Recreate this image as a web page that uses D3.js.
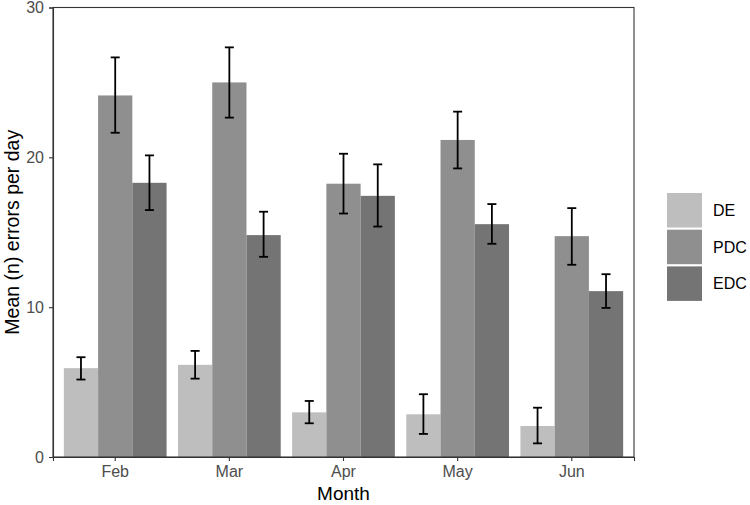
<!DOCTYPE html>
<html>
<head>
<meta charset="utf-8">
<script src="https://cdn.jsdelivr.net/npm/d3@7"></script>
<style>
  body { margin: 0; background: #fff; }
  svg { font-family: "Liberation Sans", Arial, sans-serif; }
</style>
</head>
<body>
<svg width="750" height="505"></svg>
<script>
// values
var months = ["Feb", "Mar", "Apr", "May", "Jun"];
var groups = ["DE", "PDC", "EDC"];
var deMean  = [5.93, 6.15, 2.98, 2.85, 2.07];
var deLow   = [5.17, 5.23, 2.25, 1.54, 0.91];
var deHigh  = [6.66, 7.08, 3.74, 4.19, 3.29];
var pdcMean = [24.13, 25.0, 18.24, 21.16, 14.74];
var pdcLow  = [21.64, 22.65, 16.25, 19.26, 12.83];
var pdcHigh = [26.67, 27.34, 20.24, 23.05, 16.61];
var edcMean = [18.3, 14.81, 17.43, 15.54, 11.07];
var edcLow  = [16.48, 13.36, 15.38, 14.23, 9.95];
var edcHigh = [20.13, 16.37, 19.53, 16.88, 12.2];
var yTicks = [0, 10, 20, 30];

var series = {
  DE: {mean: deMean, low: deLow, high: deHigh},
  PDC: {mean: pdcMean, low: pdcLow, high: pdcHigh},
  EDC: {mean: edcMean, low: edcLow, high: edcHigh}
};

var rows = [];
months.forEach(function(m, i) {
  groups.forEach(function(g) {
    rows.push({month: m, group: g, mean: series[g].mean[i], low: series[g].low[i], high: series[g].high[i]});
  });
});

var svg = d3.select("svg"),
    margin = {top: 7.5, left: 53, right: 116, bottom: 48},
    width = 750 - margin.left - margin.right,
    height = 505 - margin.top - margin.bottom;

var x = d3.scaleBand().domain(months).range([0, width]).paddingInner(0.1).paddingOuter(0.095),
    x1 = d3.scaleBand().domain(groups).range([0, x.bandwidth()]),
    y = d3.scaleLinear().domain([0, 30]).range([height, 0]),
    color = d3.scaleOrdinal().domain(groups).range(["#bebebe", "#8f8f8f", "#747474"]);

var g = svg.append("g")
    .attr("transform", "translate(" + margin.left + "," + margin.top + ")");

g.selectAll(".bar")
  .data(rows)
  .enter().append("rect")
    .attr("class", "bar")
    .attr("x", function(d) { return x(d.month) + x1(d.group); })
    .attr("y", function(d) { return y(d.mean); })
    .attr("width", x1.bandwidth())
    .attr("height", function(d) { return height - y(d.mean); })
    .attr("fill", function(d) { return color(d.group); });

// error bars
var capW = 9;
var eb = g.selectAll(".err")
  .data(rows)
  .enter().append("g")
    .attr("class", "err")
    .attr("stroke", "#000")
    .attr("stroke-width", 1.8);
eb.append("line")
    .attr("x1", function(d) { return x(d.month) + x1(d.group) + x1.bandwidth() / 2; })
    .attr("x2", function(d) { return x(d.month) + x1(d.group) + x1.bandwidth() / 2; })
    .attr("y1", function(d) { return y(d.low); })
    .attr("y2", function(d) { return y(d.high); });
["low", "high"].forEach(function(k) {
  eb.append("line")
    .attr("x1", function(d) { return x(d.month) + x1(d.group) + x1.bandwidth() / 2 - capW / 2; })
    .attr("x2", function(d) { return x(d.month) + x1(d.group) + x1.bandwidth() / 2 + capW / 2; })
    .attr("y1", function(d) { return y(d[k]); })
    .attr("y2", function(d) { return y(d[k]); });
});

// panel border
g.append("rect")
    .attr("x", 0).attr("y", 0)
    .attr("width", width).attr("height", height)
    .attr("fill", "none")
    .attr("stroke", "#333")
    .attr("stroke-width", 1.1);

var xAxis = g.append("g")
    .attr("transform", "translate(0," + height + ")")
    .call(d3.axisBottom(x).tickSize(4).tickPadding(5));
var yAxis = g.append("g")
    .call(d3.axisLeft(y).tickValues(yTicks).tickSize(4).tickPadding(5));

[xAxis, yAxis].forEach(function(a) {
  a.select(".domain").attr("stroke", "#333").attr("stroke-width", 1.1);
  a.selectAll(".tick line").attr("stroke", "#333").attr("stroke-width", 1.1);
  a.selectAll(".tick text").attr("fill", "#4d4d4d").style("font-size", "16px");
});

// axis titles
svg.append("text")
    .attr("x", margin.left + width / 2)
    .attr("y", 500)
    .attr("text-anchor", "middle")
    .style("font-size", "19px")
    .text("Month");
svg.append("text")
    .attr("transform", "translate(19," + (margin.top + height / 2) + ") rotate(-90)")
    .attr("text-anchor", "middle")
    .style("font-size", "19.5px")
    .text("Mean (n) errors per day");

// legend
var legend = svg.append("g")
    .attr("transform", "translate(667,193)");
var li = legend.selectAll(".key")
  .data(groups)
  .enter().append("g")
    .attr("transform", function(d, i) { return "translate(0," + i * 36.7 + ")"; });
li.append("rect")
    .attr("width", 35)
    .attr("height", 34.5)
    .attr("fill", function(d) { return color(d); });
li.append("text")
    .attr("x", 46)
    .attr("y", 17.5)
    .attr("dy", "0.35em")
    .style("font-size", "16px")
    .text(function(d) { return d; });
</script>
</body>
</html>
